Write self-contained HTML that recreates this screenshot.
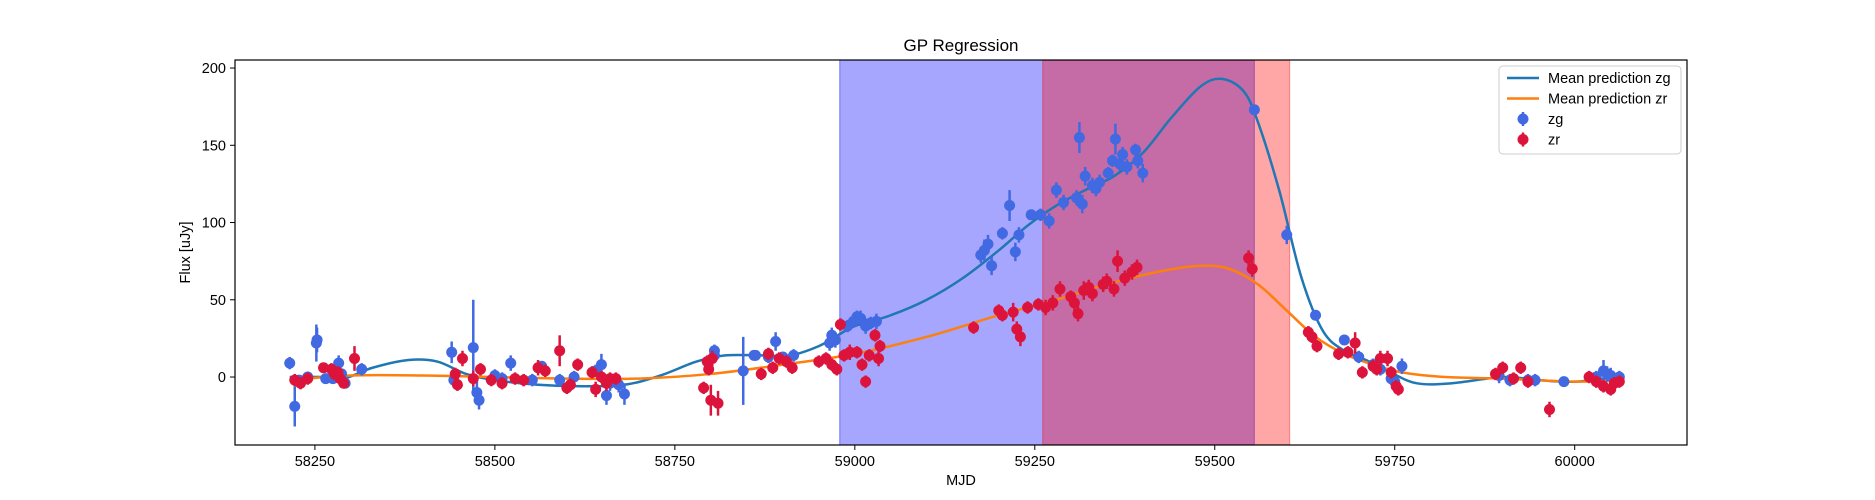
<!DOCTYPE html>
<html><head><meta charset="utf-8"><style>
html,body{margin:0;padding:0;background:#fff;}
svg{display:block;font-family:"Liberation Sans","DejaVu Sans",sans-serif;}
</style></head><body>
<svg id="chart" width="1875" height="500" xmlns="http://www.w3.org/2000/svg"></svg>
<script>
const xTicks=[58250,58500,58750,59000,59250,59500,59750,60000];
const yTicks=[0,50,100,150,200];
const spanBlue=[58979,59555];
const spanRed=[59261,59604];
const zgMjd=[58215,58222,58228,58240,58252,58253,58265,58275,58283,58287,58292,58315,58440,58443,58470,58475,58478,58500,58510,58522,58552,58565,58590,58610,58640,58648,58655,58660,58672,58680,58805,58805,58845,58860,58862,58880,58890,58900,58915,58965,58968,58973,58990,58998,59003,59008,59015,59022,59030,59175,59180,59185,59190,59205,59215,59223,59228,59245,59258,59270,59280,59290,59308,59312,59316,59320,59330,59335,59340,59352,59358,59362,59368,59372,59378,59390,59393,59400,59555,59600,59640,59680,59700,59720,59730,59745,59750,59760,59895,59910,59935,59945,59985,60030,60040,60045,60050,60055,60062];
const zgFlux=[9,-19,-2,0,22,24,-1,-1,9,2,-4,5,16,-2,19,-10,-15,1,-1,9,-2,7,-2,0,4,8,-12,-4,-5,-11,14,17,4,14,14,13,23,13,14,22,27,24,33,36,39,38,33,35,36,79,82,86,72,93,111,81,92,105,105,101,121,113,116,155,112,130,124,122,126,132,140,154,138,144,136,147,140,132,173,92,40,24,13,8,5,-1,-3,7,1,-2,-2,-2,-3,0,4,2,1,-3,0];
const zgErr=[4,13,3,3,12,8,3,3,5,3,3,4,7,4,31,8,6,4,4,5,4,3,4,4,4,7,6,5,5,7,5,4,22,3,3,4,6,3,4,5,5,5,4,4,4,5,5,4,5,5,7,6,6,4,10,6,5,3,4,5,5,5,5,10,6,6,5,5,5,4,4,10,5,5,5,4,5,6,3,6,3,3,4,4,4,4,4,5,5,4,4,4,3,4,7,5,5,5,4];
const zrMjd=[58222,58230,58240,58262,58273,58277,58282,58285,58290,58305,58445,58448,58455,58470,58480,58495,58510,58528,58540,58560,58570,58590,58600,58605,58615,58635,58640,58648,58655,58660,58668,58790,58795,58797,58800,58802,58810,58870,58880,58886,58895,58905,58913,58950,58960,58968,58975,58980,58985,58993,59003,59010,59015,59020,59028,59033,59035,59165,59200,59205,59220,59225,59230,59240,59255,59265,59275,59285,59300,59305,59310,59318,59325,59330,59345,59350,59360,59365,59375,59385,59392,59547,59552,59630,59635,59642,59672,59685,59695,59705,59720,59725,59730,59740,59745,59752,59755,59890,59900,59915,59925,59935,59965,60020,60030,60040,60050,60055,60062];
const zrFlux=[-2,-4,-1,6,5,2,3,-1,-4,12,2,-5,12,-1,5,-2,-4,-1,-2,6,4,17,-7,-5,8,3,-8,0,-4,-1,-1,-7,10,5,-15,12,-17,2,15,6,12,10,6,10,12,8,5,34,14,16,16,8,-3,14,27,12,20,32,43,40,42,31,26,45,47,45,48,57,52,48,41,56,58,54,60,62,57,75,64,68,71,77,70,29,26,20,15,16,22,3,7,5,12,12,3,-6,-8,2,6,-1,6,-3,-21,0,-3,-6,-8,-4,-3];
const zrErr=[4,4,4,3,4,4,4,3,3,8,4,4,5,5,4,4,4,4,4,5,4,10,4,4,4,4,5,4,5,4,4,4,4,4,10,5,8,4,4,4,4,4,4,4,4,4,4,4,4,5,4,4,4,4,4,5,4,4,4,4,6,5,6,4,4,5,5,5,4,5,5,6,5,5,5,5,5,7,5,5,5,5,5,4,4,4,4,4,7,4,4,4,5,5,4,4,4,4,4,4,4,4,5,4,4,4,4,4,4];
const zgCurveX=[58215,58260,58290,58330,58380,58420,58460,58500,58560,58620,58680,58730,58780,58820,58870,58910,58950,58980,59000,59050,59100,59150,59200,59240,59280,59320,59360,59400,59440,59480,59510,59540,59560,59590,59620,59650,59680,59710,59740,59780,59830,59900,59950,60000,60062];
const zgCurveY=[0,0,-1,6,11,10,2,-2,-5,-6,-5,1,10,14,14,14,20,28,33,40,50,64,82,98,111,121,130,145,168,188,193,185,165,120,65,30,17,11,4,-4,-4,0,-2,-3,0];
const zrCurveX=[58215,58300,58400,58500,58600,58700,58800,58900,59000,59100,59200,59280,59350,59420,59480,59520,59560,59600,59640,59680,59720,59760,59820,59900,60000,60062];
const zrCurveY=[-2,1,1,0,-1,-1,2,8,15,26,40,50,60,68,72,70,60,43,26,15,8,3,0,-1,-3,-2];

const svg=document.getElementById('chart');
const NS='http://www.w3.org/2000/svg';
const L=235,R=1687,T=60,B=445;
const X0=58139,X1=60156,Y0=-44,Y1=205.2;
const sx=m=>L+(m-X0)/(X1-X0)*(R-L);
const sy=v=>B-(v-Y0)/(Y1-Y0)*(B-T);
function mk(tag,attrs,parent){const e=document.createElementNS(NS,tag);for(const k in attrs)e.setAttribute(k,attrs[k]);(parent||svg).appendChild(e);return e;}

const clip=mk('clipPath',{id:'pc'});mk('rect',{x:L,y:T,width:R-L,height:B-T},clip);
const plot=mk('g',{'clip-path':'url(#pc)'});



let s=mk('rect',{x:sx(spanBlue[0]),y:T,width:sx(spanBlue[1])-sx(spanBlue[0]),height:B-T,fill:'rgba(0,0,255,0.35)',stroke:'rgba(0,0,255,0.35)','stroke-width':1.2},plot);


s=mk('rect',{x:sx(spanRed[0]),y:T,width:sx(spanRed[1])-sx(spanRed[0]),height:B-T,fill:'rgba(255,0,0,0.35)',stroke:'rgba(255,0,0,0.35)','stroke-width':1.2},plot);



function smooth(xs,ys){const p=xs.map((x,i)=>[sx(x),sy(ys[i])]);let d='M'+p[0][0]+','+p[0][1];
for(let i=0;i<p.length-1;i++){const p0=p[i-1]||p[i],p1=p[i],p2=p[i+1],p3=p[i+2]||p2;
d+=' C'+(p1[0]+(p2[0]-p0[0])/6)+','+(p1[1]+(p2[1]-p0[1])/6)+' '+(p2[0]-(p3[0]-p1[0])/6)+','+(p2[1]-(p3[1]-p1[1])/6)+' '+p2[0]+','+p2[1];}return d;}

let c=mk('path',{d:smooth(zgCurveX,zgCurveY),fill:'none',stroke:'#1f77b4','stroke-width':2.5},plot);


c=mk('path',{d:smooth(zrCurveX,zrCurveY),fill:'none',stroke:'#ff7f0e','stroke-width':2.5},plot);



function pts(ms,fs,es,col,name){const g=mk('g',{},plot);


ms.forEach((m,i)=>{const x=sx(m);
const ln=mk('line',{x1:x,x2:x,y1:sy(fs[i]-es[i]),y2:sy(fs[i]+es[i]),stroke:col,'stroke-width':2.5},g);


const ci=mk('circle',{cx:x,cy:sy(fs[i]),r:5.5,fill:col},g);

});}
pts(zgMjd,zgFlux,zgErr,'#4169e1','zg');
pts(zrMjd,zrFlux,zrErr,'#dc143c','zr');

let fr=mk('rect',{x:L,y:T,width:R-L,height:B-T,fill:'none',stroke:'#000','stroke-width':1.2});



const FS=14.5;
xTicks.forEach(t=>{const x=sx(t);mk('line',{x1:x,x2:x,y1:B,y2:B+5,stroke:'#000','stroke-width':1});
const tx=mk('text',{x:x,y:B+21,'text-anchor':'middle','font-size':FS,fill:'#000'});tx.textContent=t;

});
yTicks.forEach(t=>{const y=sy(t);mk('line',{x1:L-5,x2:L,y1:y,y2:y,stroke:'#000','stroke-width':1});
const tx=mk('text',{x:L-9,y:y+5,'text-anchor':'end','font-size':FS,fill:'#000'});tx.textContent=t;

});

let t=mk('text',{x:(L+R)/2,y:51,'text-anchor':'middle','font-size':17,fill:'#000'});t.textContent='GP Regression';


t=mk('text',{x:(L+R)/2,y:485,'text-anchor':'middle','font-size':FS,fill:'#000'});t.textContent='MJD';


t=mk('text',{x:0,y:0,'text-anchor':'middle','font-size':FS,fill:'#000',transform:'translate(190,'+((T+B)/2)+') rotate(-90)'});t.textContent='Flux [uJy]';



const lg=mk('g',{});


mk('rect',{x:1499,y:66,width:182,height:88,rx:4,fill:'rgba(255,255,255,0.8)',stroke:'#ccc','stroke-width':1},lg);
const items=[['Mean prediction zg','line','#1f77b4'],['Mean prediction zr','line','#ff7f0e'],['zg','pt','#4169e1'],['zr','pt','#dc143c']];
items.forEach((it,i)=>{const y=78+i*20.5;const e=mk('g',{},lg);


if(it[1]=='line')mk('line',{x1:1507,x2:1539,y1:y,y2:y,stroke:it[2],'stroke-width':2.5},e);
else{mk('line',{x1:1523,x2:1523,y1:y-7,y2:y+7,stroke:it[2],'stroke-width':2.5},e);mk('circle',{cx:1523,cy:y,r:5.5,fill:it[2]},e);}
const tx=mk('text',{x:1548,y:y+5,'font-size':FS,fill:'#000'},e);tx.textContent=it[0];});
</script>
</body></html>
